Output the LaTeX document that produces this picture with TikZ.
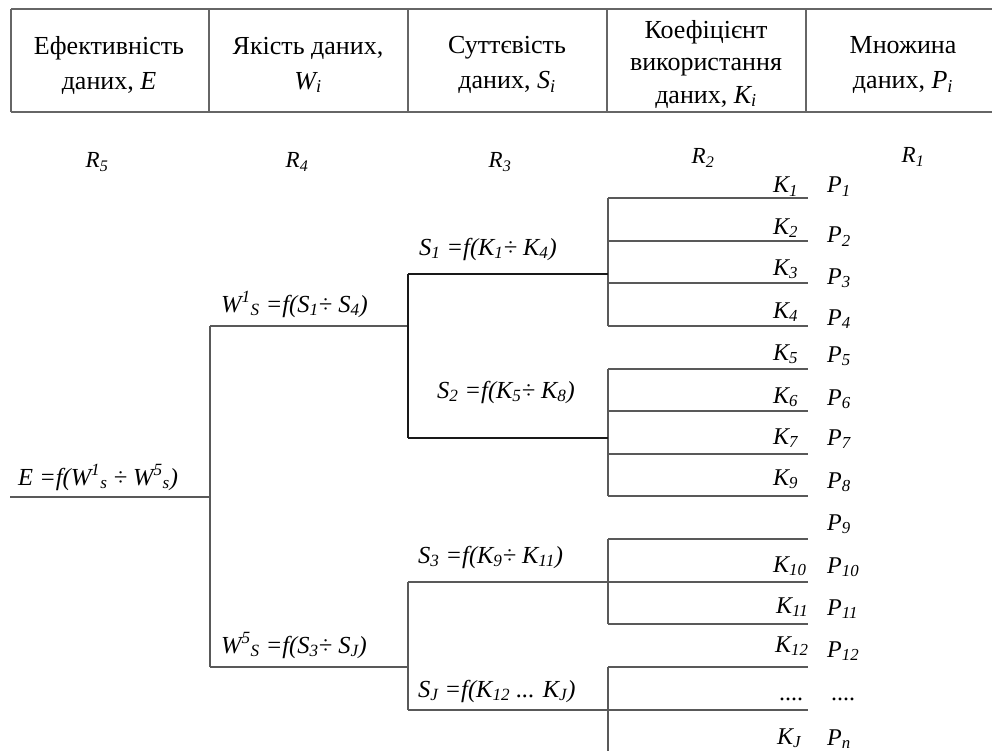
\documentclass[tikz,border=0pt]{standalone}
\usepackage{fontspec}
\setmainfont{Liberation Serif}
\newcommand{\subx}[1]{\textsubscript{#1}}
\newcommand{\supx}[1]{\textsuperscript{#1}}

\begin{document}
\begin{tikzpicture}
[x=1pt,y=-1pt,
  gridLine/.style={draw=black!60,line width=1.6pt},%
  treeLine/.style={draw=black!65,line width=1.3pt},%
  darkLine/.style={draw=black!90,line width=1.6pt},%
  headText/.style={align=center,inner sep=0pt,font=\fontsize{26}{35}\selectfont},%
  levelText/.style={inner sep=0pt,font=\fontsize{23}{28}\selectfont\itshape},%
  formText/.style={anchor=base west,inner sep=0pt,font=\fontsize{24.5}{28}\selectfont\itshape},%
  leafText/.style={anchor=base west,inner sep=0pt,font=\fontsize{24}{28}\selectfont\itshape}]
\useasboundingbox (0,0) rectangle (992,751);
%% header table
\draw[gridLine] (11,9) -- (992,9) (11,112) -- (992,112);
\foreach \x in {11,209,408,607,806}
{
  \draw[gridLine] (\x,9) -- (\x,112);
}
\node (hE) at (109,65) [headText] {Ефективність\\даних, \textit{E}};
\node (hW) at (308,65) [headText] {Якість даних,\\\textit{W\subx{i}}};
\node (hS) at (507,65) [headText] {Суттєвість\\даних, \textit{S\subx{i}}};
\node (hK) at (706,64) [headText,font=\fontsize{26}{32.5}\selectfont] {Коефіцієнт\\використання\\даних, \textit{K\subx{i}}};
\node (hP) at (903,65) [headText] {Множина\\даних, \textit{P\subx{i}}};
%% level labels
\foreach \nodename/\x/\y/\i in {r5/97/162/5, r4/297/162/4, r3/500/162/3, r2/703/158/2, r1/913/157/1}
{
  \node (\nodename) at (\x,\y) [levelText] {R\subx{\i}};
}
%% formulas
\node (fE) at (18,485) [formText] {E =f(W\supx{1}\subx{s} ÷ W\supx{5}\subx{s})};
\node (fW1) at (221,312) [formText] {W\supx{1}\subx{S} =f(S\subx{1}÷ S\subx{4})};
\node (fW5) at (221,653) [formText] {W\supx{5}\subx{S} =f(S\subx{3}÷ S\subx{J})};
\node (fS1) at (419,255) [formText] {S\subx{1} =f(K\subx{1}÷ K\subx{4})};
\node (fS2) at (437,398) [formText] {S\subx{2} =f(K\subx{5}÷ K\subx{8})};
\node (fS3) at (418,563) [formText] {S\subx{3} =f(K\subx{9}÷ K\subx{11})};
\node (fSJ) at (418,697) [formText] {S\subx{J} =f(K\subx{12} ... K\subx{J})};
%% leaf labels
\foreach \nodename/\x/\y/\i in {k1/773/193/1, k2/773/234/2, k3/773/275/3, k4/773/318/4,
  k5/773/360/5, k6/773/403/6, k7/773/444/7, k9/773/485/9, k10/773/572/10,
  k11/776/613/11, k12/775/652/12, kJ/777/744/J}
{
  \node (\nodename) at (\x,\y) [leafText] {K\subx{\i}};
}
\foreach \nodename/\y/\i in {p1/193/1, p2/243/2, p3/284/3, p4/325/4, p5/362/5, p6/405/6,
  p7/445/7, p8/488/8, p9/530/9, p10/573/10, p11/615/11, p12/657/12, pn/745/n}
{
  \node (\nodename) at (827,\y) [leafText] {P\subx{\i}};
}
\node (kdots) at (779,700) [leafText,font=\fontsize{24}{28}\selectfont] {....};
\node (pdots) at (831,700) [leafText,font=\fontsize{24}{28}\selectfont] {....};
%% junctions
\foreach \nodename/\x/\y in {e0/10/497, e1/210/497, w1a/210/326, w1b/408/326,
  w5a/210/667, w5b/408/667, s1a/408/274, s1b/608/274, s2a/408/438, s2b/608/438,
  s3a/408/582, sja/408/710, lend/608/751}
{
  \coordinate (\nodename) at (\x,\y);
}
\foreach \i/\y in {1/198, 2/241, 3/283, 4/326, 5/369, 6/411, 7/454, 8/496,
  9/539, 10/582, 11/624, 12/667, 13/710}
{
  \coordinate (l\i) at (608,\y);
  \coordinate (r\i) at (808,\y);
}
%% tree lines
\path
\foreach \startnode/\endnode in {e0/e1, w1a/w5a, w1a/w1b, w5a/w5b, s3a/sja,
  s3a/l10, sja/l13, l1/l4, l5/l8, l9/l11, l12/lend}
{
  (\startnode) edge[treeLine] (\endnode)
}
\foreach \i in {1,...,13}
{
  (l\i) edge[treeLine] (r\i)
}
\foreach \startnode/\endnode in {s1a/s1b, s2a/s2b, s1a/s2a}
{
  (\startnode) edge[darkLine] (\endnode)
};
\end{tikzpicture}
\end{document}
